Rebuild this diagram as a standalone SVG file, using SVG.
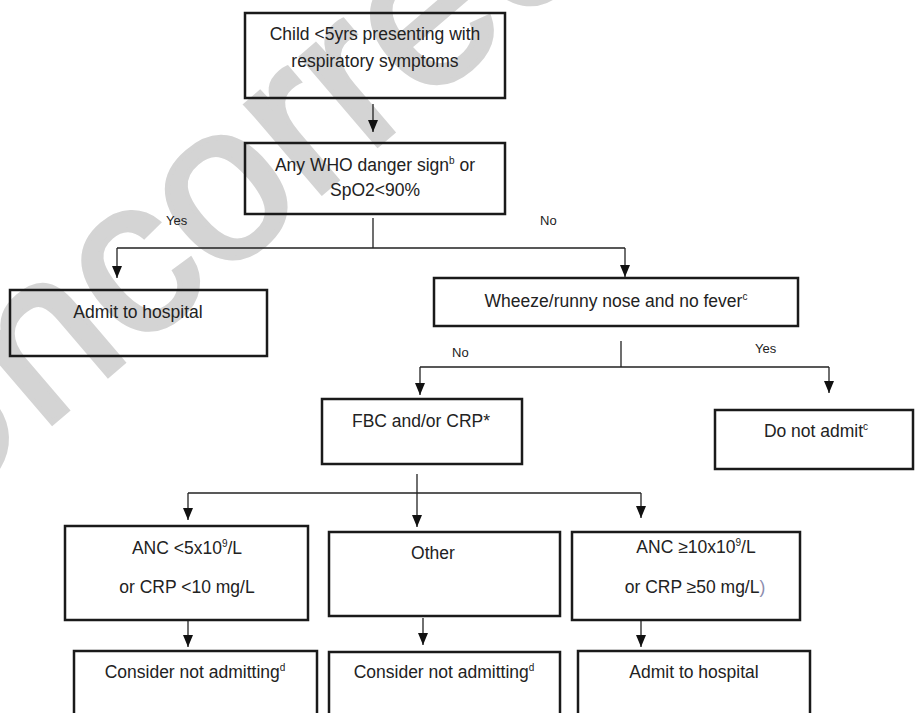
<svg xmlns="http://www.w3.org/2000/svg" width="915" height="713" viewBox="0 0 915 713">
<style>
.box{fill:none;stroke:#1a1a1a;stroke-width:2.5}
.con{fill:none;stroke:#222;stroke-width:1.3}
.t{font-family:"Liberation Sans",Arial,sans-serif;font-size:17.5px;fill:#222;text-anchor:middle}
.lbl{font-family:"Liberation Sans",Arial,sans-serif;font-size:13px;fill:#222}
.sup{font-size:10px}
.wm{font-family:"Liberation Sans",Arial,sans-serif;font-size:220px;fill:#d4d4d4;stroke:#d4d4d4;stroke-width:5}
</style>
<defs>
<marker id="ah" viewBox="0 0 12 10" refX="12" refY="5" markerWidth="12" markerHeight="10" markerUnits="userSpaceOnUse" orient="auto">
<path d="M0,0 L12,5 L0,10 z" fill="#111"/>
</marker>
</defs>
<rect width="915" height="713" fill="#fff"/>
<text class="wm" transform="translate(-80,536) rotate(-40.5)">Uncorrected</text>

<g id="connectors">
<path class="con" d="M373,104 V132" marker-end="url(#ah)"/>
<path class="con" d="M373,218 V248 M117,248 H625"/>
<path class="con" d="M117,248 V278" marker-end="url(#ah)"/>
<path class="con" d="M625,248 V277" marker-end="url(#ah)"/>
<path class="con" d="M621,341 V367 M420,367 H829"/>
<path class="con" d="M420,367 V395" marker-end="url(#ah)"/>
<path class="con" d="M829,367 V393" marker-end="url(#ah)"/>
<path class="con" d="M188,493 H641"/>
<path class="con" d="M417,474 V527" marker-end="url(#ah)"/>
<path class="con" d="M188,493 V520" marker-end="url(#ah)"/>
<path class="con" d="M641,493 V518" marker-end="url(#ah)"/>
<path class="con" d="M188,620 V647" marker-end="url(#ah)"/>
<path class="con" d="M423,618 V645" marker-end="url(#ah)"/>
<path class="con" d="M641,620 V647" marker-end="url(#ah)"/>
<text class="lbl" x="166" y="225">Yes</text>
<text class="lbl" x="540" y="225">No</text>
<text class="lbl" x="452" y="357">No</text>
<text class="lbl" x="755" y="353">Yes</text>
</g>

<g id="start">
<rect class="box" x="245" y="13" width="260" height="85"/>
<text class="t" x="375" y="40">Child &lt;5yrs presenting with</text>
<text class="t" x="375" y="67">respiratory symptoms</text>
</g>

<g id="danger">
<rect class="box" x="245" y="143" width="260" height="71"/>
<text class="t" x="375" y="171">Any WHO danger sign<tspan class="sup" dy="-7">b</tspan><tspan dy="7"> or</tspan></text>
<text class="t" x="375" y="196">SpO2&lt;90%</text>
</g>

<g id="admit1">
<rect class="box" x="10" y="290" width="257" height="66"/>
<text class="t" x="138" y="318">Admit to hospital</text>
</g>

<g id="wheeze">
<rect class="box" x="434" y="278" width="364" height="48"/>
<text class="t" x="616" y="307">Wheeze/runny nose and no fever<tspan class="sup" dy="-7">c</tspan></text>
</g>

<g id="fbc">
<rect class="box" x="322" y="399" width="200" height="65"/>
<text class="t" x="421" y="427">FBC and/or CRP*</text>
</g>

<g id="donotadmit">
<rect class="box" x="715" y="410" width="198" height="59"/>
<text class="t" x="816" y="437">Do not admit<tspan class="sup" dy="-7">c</tspan></text>
</g>

<g id="anclow">
<rect class="box" x="65" y="526" width="243" height="94"/>
<text class="t" x="187" y="554">ANC &lt;5x10<tspan class="sup" dy="-7">9</tspan><tspan dy="7">/L</tspan></text>
<text class="t" x="187" y="593">or CRP &lt;10 mg/L</text>
</g>

<g id="other">
<rect class="box" x="329" y="532" width="231" height="84"/>
<text class="t" x="433" y="559">Other</text>
</g>

<g id="anchigh">
<rect class="box" x="572" y="532" width="228" height="88"/>
<text class="t" x="696" y="553">ANC ≥10x10<tspan class="sup" dy="-7">9</tspan><tspan dy="7">/L</tspan></text>
<text class="t" x="695" y="593">or CRP ≥50 mg/L<tspan fill="#8c8cae">)</tspan></text>
</g>

<g id="consider1">
<rect class="box" x="74" y="651" width="243" height="80"/>
<text class="t" x="195" y="678">Consider not admitting<tspan class="sup" dy="-7">d</tspan></text>
</g>

<g id="consider2">
<rect class="box" x="329" y="652" width="231" height="80"/>
<text class="t" x="444" y="678">Consider not admitting<tspan class="sup" dy="-7">d</tspan></text>
</g>

<g id="admit2">
<rect class="box" x="578" y="651" width="232" height="80"/>
<text class="t" x="694" y="678">Admit to hospital</text>
</g>
</svg>
